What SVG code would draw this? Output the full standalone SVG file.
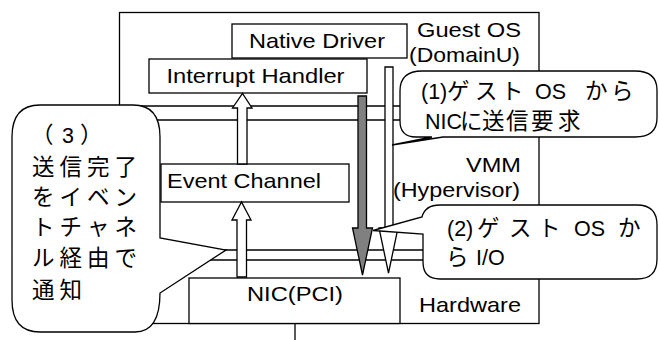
<svg xmlns="http://www.w3.org/2000/svg" width="659" height="340" viewBox="0 0 659 340">
<style>
.b{fill:#fff;stroke:#000;stroke-width:1.3}
.l{fill:none;stroke:#000;stroke-width:1.3}
.t{font-family:"Liberation Sans",Arial,sans-serif;font-size:21px;fill:#000}
.j{font-family:"Liberation Sans","Noto Sans CJK JP",sans-serif;font-size:21.5px;fill:#000}
.k{font-size:22.5px}
.aw{fill:#fff;stroke:#000;stroke-width:1.3;stroke-linejoin:miter}
.ag{fill:#808080;stroke:#000;stroke-width:1.3;stroke-linejoin:miter}
</style>
<rect width="659" height="340" fill="#fff"/>
<g id="layers">
<rect class="l" x="119.5" y="12.5" width="419.5" height="311"/>
<line class="l" x1="119.5" y1="106" x2="539" y2="106" stroke-width="2"/>
<line class="l" x1="119.5" y1="120" x2="539" y2="120"/>
<line class="l" x1="119.5" y1="250" x2="539" y2="250"/>
<line class="l" x1="119.5" y1="260" x2="539" y2="260"/>
<line class="l" x1="295" y1="323.5" x2="295" y2="340"/>
<text class="t" x="417" y="37" textLength="104" lengthAdjust="spacingAndGlyphs">Guest OS</text>
<text class="t" x="409" y="62" textLength="111" lengthAdjust="spacingAndGlyphs">(DomainU)</text>
<text class="t" x="466" y="172" textLength="55" lengthAdjust="spacingAndGlyphs">VMM</text>
<text class="t" x="393" y="197" textLength="127" lengthAdjust="spacingAndGlyphs">(Hypervisor)</text>
<text class="t" x="419" y="312" textLength="102" lengthAdjust="spacingAndGlyphs">Hardware</text>
</g>
<g id="native-driver">
<rect class="b" x="232" y="24" width="175" height="34"/>
<text class="t" x="249" y="48" textLength="136" lengthAdjust="spacingAndGlyphs">Native Driver</text>
</g>
<g id="interrupt-handler">
<rect class="b" x="149" y="59" width="218" height="34"/>
<text class="t" x="166.5" y="83" textLength="178" lengthAdjust="spacingAndGlyphs">Interrupt Handler</text>
</g>
<g id="event-channel">
<rect class="b" x="161" y="164" width="188" height="38"/>
<text class="t" x="167" y="188" textLength="154" lengthAdjust="spacingAndGlyphs">Event Channel</text>
</g>
<g id="nic">
<rect class="b" x="189" y="278" width="211" height="45.5"/>
<text class="t" x="247" y="301" textLength="96" lengthAdjust="spacingAndGlyphs">NIC(PCI)</text>
</g>
<g id="connectors">
<polygon class="aw" points="237,277 237,220 232,220 241.5,202 251,220 246.5,220 246.5,277"/>
<polygon class="aw" points="237.5,164 237.5,108 232.5,108 242.5,93.5 252,108 247,108 247,164"/>
<polygon class="ag" points="358,96 366.5,96 366.5,228 372.5,228 362.5,275 352.5,228 358,228"/>
<polygon class="aw" points="385,67 393,67 393,228 398,228 388.5,273 379,228 385,228"/>
</g>
<g id="callout-1">
<path class="b" d="M422,71 H635 Q657,71 657,90 V118 Q657,137 635,137 H443 L392,145 L432,137 H416 Q400,137 400,121 V91 Q400,71 422,71 Z"/>
<text class="j" y="99"><tspan x="421">(1)</tspan><tspan class="k" x="447">ゲ</tspan><tspan class="k" x="475">ス</tspan><tspan class="k" x="501">ト</tspan><tspan x="535">OS</tspan><tspan class="k" x="585">か</tspan><tspan class="k" x="611">ら</tspan></text>
<text class="j" y="129"><tspan x="425">NIC</tspan><tspan class="k" x="460">に</tspan><tspan class="k" x="482">送</tspan><tspan class="k" x="506">信</tspan><tspan class="k" x="531">要</tspan><tspan class="k" x="558">求</tspan></text>
</g>
<g id="callout-2">
<path class="b" d="M440,205 H637 Q657,205 657,225 V259 Q657,279 637,279 H440 Q423,279 423,262 V234 L373,230.5 L422,217 Q425,205 440,205 Z"/>
<text class="j" y="236"><tspan x="447">(2)</tspan><tspan class="k" x="477">ゲ</tspan><tspan class="k" x="509">ス</tspan><tspan class="k" x="538">ト</tspan><tspan x="574">OS</tspan><tspan class="k" x="618">か</tspan></text>
<text class="j" y="265"><tspan class="k" x="446">ら</tspan><tspan x="476">I/O</tspan></text>
</g>
<g id="callout-3">
<path class="b" d="M40,105 H133 Q160,105 160,137 V238 L226,250 L160,293 Q160,332 135,332 H40 Q12,332 12,300 V137 Q12,105 40,105 Z"/>
<text class="j" y="143"><tspan class="k" x="31">（</tspan><tspan x="62">3</tspan><tspan class="k" x="80">）</tspan></text>
<text class="j k" y="175"><tspan x="32">送</tspan><tspan x="59.5">信</tspan><tspan x="87">完</tspan><tspan x="114.5">了</tspan></text>
<text class="j k" y="205"><tspan x="32">を</tspan><tspan x="59.5">イ</tspan><tspan x="87">ベ</tspan><tspan x="114.5">ン</tspan></text>
<text class="j k" y="235"><tspan x="32">ト</tspan><tspan x="59.5">チ</tspan><tspan x="87">ャ</tspan><tspan x="114.5">ネ</tspan></text>
<text class="j k" y="266"><tspan x="32">ル</tspan><tspan x="59.5">経</tspan><tspan x="87">由</tspan><tspan x="114.5">で</tspan></text>
<text class="j k" y="298"><tspan x="32">通</tspan><tspan x="59.5">知</tspan></text>
</g>
</svg>
